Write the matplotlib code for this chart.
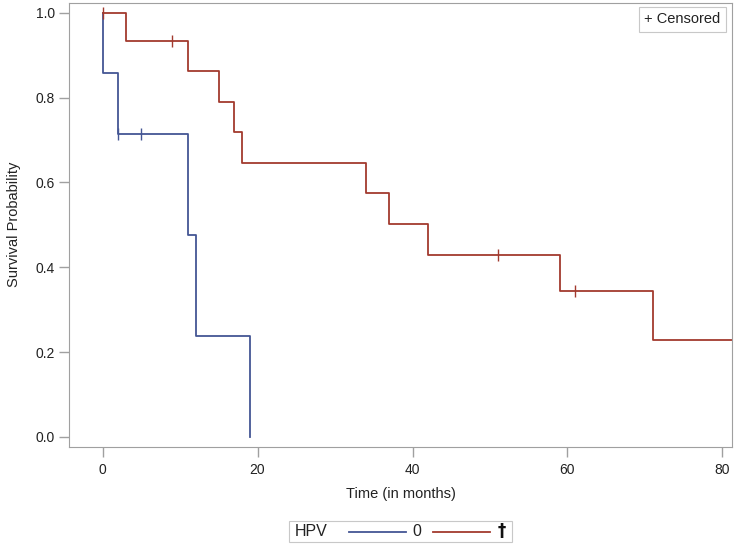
import matplotlib
matplotlib.use("Agg")
import matplotlib.pyplot as plt
from matplotlib.lines import Line2D
from matplotlib.patches import Rectangle

# Data
hpv0_times = [0, 0, 2, 11, 12, 19]
hpv0_surv = [1.0, 0.857, 0.714, 0.476, 0.238, 0.0]
hpv0_cens_t = [2, 5]
hpv0_cens_s = [0.714, 0.714]

hpv1_times = [0, 3, 11, 15, 17, 18, 34, 37, 42, 59, 71, 82]
hpv1_surv = [1.0, 0.933, 0.862, 0.789, 0.718, 0.646, 0.574, 0.502, 0.430, 0.344, 0.229, 0.229]
hpv1_cens_t = [0, 9, 51, 61]
hpv1_cens_s = [1.0, 0.933, 0.430, 0.344]

xticks = [0, 20, 40, 60, 80]
yticks = [0.0, 0.2, 0.4, 0.6, 0.8, 1.0]

BLUE = "#445694"
RED = "#A23A2E"
GRAY = "#A0A0A0"

plt.rcParams['font.family'] = ['Liberation Sans', 'DejaVu Sans']

fig = plt.figure(figsize=(7.36, 5.47), dpi=100)
ax = fig.add_axes([69.3/736, 1 - 446.7/547, (731.7 - 69.3)/736, (446.7 - 2.7)/547])

ax.plot(hpv0_times, hpv0_surv, drawstyle='steps-post', color=BLUE, lw=1.3)
ax.plot(hpv1_times, hpv1_surv, drawstyle='steps-post', color=RED, lw=1.3)
ax.plot(hpv0_cens_t, hpv0_cens_s, ls='none', marker='|', ms=8, mew=1.0, color=BLUE)
ax.plot(hpv1_cens_t, hpv1_cens_s, ls='none', marker='|', ms=8, mew=1.0, color=RED)

ax.set_xlim(-4.3, 81.2)
ax.set_ylim(-0.023, 1.0236)
ax.set_xticks(xticks)
ax.set_yticks(yticks)
ax.set_yticklabels([f"{v:.1f}" for v in yticks])
for s in ax.spines.values():
    s.set_color(GRAY)
ax.tick_params(axis='both', colors=GRAY, labelcolor='#222222', labelsize=10, length=7, width=1)
ax.tick_params(axis='x', pad=5)
ax.set_xlabel("Time (in months)", fontsize=10.5, color='#222222', labelpad=7)
ax.set_ylabel("Survival Probability", fontsize=10.5, color='#222222', labelpad=10)

# Censored inset legend
ax.text(0.983, 0.978, "+ Censored", transform=ax.transAxes, ha='right', va='top',
        fontsize=10.5, color='#222222',
        bbox=dict(boxstyle='square,pad=0.35', fc='white', ec='#C8C8C8', lw=0.8))

# Bottom legend (figure pixel coords)
W, H = 736.0, 547.0
def fx(x):
    return x / W
def fy(y):
    return 1 - y / H

fig.patches.append(Rectangle((fx(289.3), fy(541.7)), (511.7 - 289.3)/W, (541.7 - 520.7)/H,
                             transform=fig.transFigure, fc='white', ec='#C8C8C8', lw=0.8))
yc = fy(531.5)
fig.text(fx(295), yc, "HPV", ha='left', va='center', fontsize=11.5, color='#222222')
fig.lines.append(Line2D([fx(349), fx(405.7)], [yc, yc], transform=fig.transFigure, color=BLUE, lw=1.3))
fig.text(fx(416.7), yc, "0", ha='center', va='center', fontsize=11.5, color='#222222')
fig.lines.append(Line2D([fx(433), fx(490)], [yc, yc], transform=fig.transFigure, color=RED, lw=1.3))
fig.text(fx(501.7), yc, "†", ha='center', va='center', fontsize=12, color='#111111',
         fontweight='bold', family=['DejaVu Sans'])

fig.savefig("out.png", dpi=100)
